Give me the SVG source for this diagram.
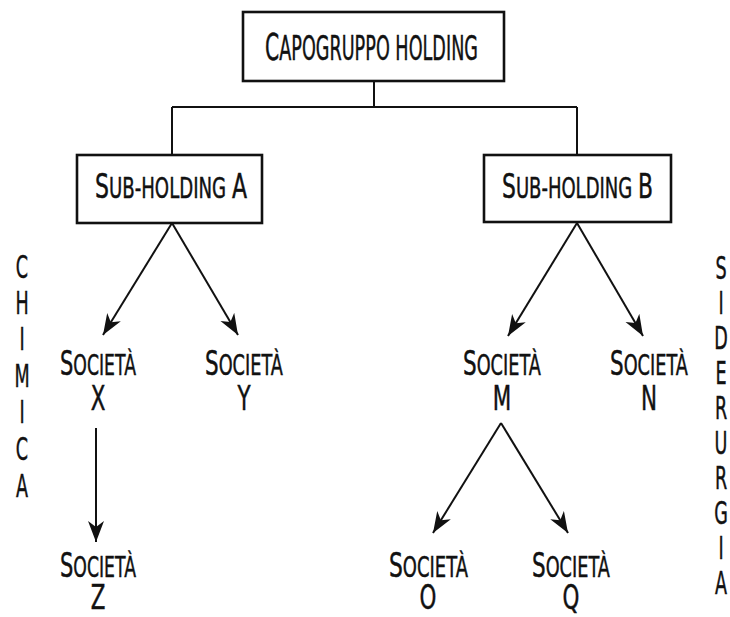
<svg xmlns="http://www.w3.org/2000/svg" width="730" height="617" viewBox="0 0 730 617">
<defs>
<style>
text{font-family:"DejaVu Sans","Liberation Sans",sans-serif;fill:#111;stroke:#111;stroke-width:0.5}
.box{fill:#fff;stroke:#111;stroke-width:2.6}
.ln{fill:none;stroke:#111;stroke-width:2}
.big{font-size:34px}
.sm{font-size:28px}
.v{font-size:32px;text-anchor:middle}
.L{font-size:33px;text-anchor:middle}
</style>
<marker id="ah" markerUnits="userSpaceOnUse" markerWidth="24" markerHeight="18" refX="21" refY="8" orient="auto">
<path d="M0,0 L21,8 L0,16 L6,8 Z" fill="#111"/>
</marker>
</defs>

<g id="connectors">
<path class="ln" d="M374,81 V107 M172,107 H577 M172,107 V155 M577,107 V155"/>
<line class="ln" x1="172" y1="223" x2="103" y2="335" marker-end="url(#ah)"/>
<line class="ln" x1="172" y1="223" x2="238" y2="335" marker-end="url(#ah)"/>
<line class="ln" x1="577" y1="223" x2="508" y2="336" marker-end="url(#ah)"/>
<line class="ln" x1="577" y1="223" x2="643" y2="336" marker-end="url(#ah)"/>
<line class="ln" x1="96" y1="428" x2="96" y2="542" marker-end="url(#ah)"/>
<line class="ln" x1="501" y1="423" x2="433" y2="533" marker-end="url(#ah)"/>
<line class="ln" x1="501" y1="423" x2="568" y2="533" marker-end="url(#ah)"/>
</g>

<g id="capogruppo">
<rect class="box" x="243" y="12" width="261" height="69"/>
<text x="265" y="60" textLength="213" lengthAdjust="spacingAndGlyphs"><tspan font-size="38">C</tspan><tspan font-size="33">APOGRUPPO HOLDING</tspan></text>
</g>

<g id="subA">
<rect class="box" x="77" y="155" width="185" height="68"/>
<text x="95" y="198" textLength="152" lengthAdjust="spacingAndGlyphs"><tspan class="big">S</tspan><tspan class="sm">UB-HOLDING </tspan><tspan class="big">A</tspan></text>
</g>

<g id="subB">
<rect class="box" x="484" y="155" width="187" height="67"/>
<text x="502" y="198" textLength="151" lengthAdjust="spacingAndGlyphs"><tspan class="big">S</tspan><tspan class="sm">UB-HOLDING </tspan><tspan class="big">B</tspan></text>
</g>

<g id="socX">
<text x="60" y="375" textLength="76" lengthAdjust="spacingAndGlyphs"><tspan class="big">S</tspan><tspan class="sm">OCIETÀ</tspan></text>
<text class="L" transform="scale(0.65,1)" x="150.8" y="410">X</text>
</g>

<g id="socY">
<text x="205" y="375" textLength="78" lengthAdjust="spacingAndGlyphs"><tspan class="big">S</tspan><tspan class="sm">OCIETÀ</tspan></text>
<text class="L" transform="scale(0.65,1)" x="375.4" y="410">Y</text>
</g>

<g id="socM">
<text x="463" y="375" textLength="78" lengthAdjust="spacingAndGlyphs"><tspan class="big">S</tspan><tspan class="sm">OCIETÀ</tspan></text>
<text class="L" transform="scale(0.65,1)" x="772.3" y="410">M</text>
</g>

<g id="socN">
<text x="610" y="375" textLength="78" lengthAdjust="spacingAndGlyphs"><tspan class="big">S</tspan><tspan class="sm">OCIETÀ</tspan></text>
<text class="L" transform="scale(0.65,1)" x="998.5" y="410">N</text>
</g>

<g id="socZ">
<text x="60" y="577" textLength="76" lengthAdjust="spacingAndGlyphs"><tspan class="big">S</tspan><tspan class="sm">OCIETÀ</tspan></text>
<text class="L" transform="scale(0.65,1)" x="150.8" y="609">Z</text>
</g>

<g id="socO">
<text x="389" y="577" textLength="79" lengthAdjust="spacingAndGlyphs"><tspan class="big">S</tspan><tspan class="sm">OCIETÀ</tspan></text>
<text class="L" transform="scale(0.65,1)" x="658.5" y="609">O</text>
</g>

<g id="socQ">
<text x="532" y="577" textLength="78" lengthAdjust="spacingAndGlyphs"><tspan class="big">S</tspan><tspan class="sm">OCIETÀ</tspan></text>
<text class="L" transform="scale(0.65,1)" x="878.5" y="609">Q</text>
</g>

<g id="chimica" transform="scale(0.55,1)">
<text class="v" x="40" y="278">C</text>
<text class="v" x="40" y="314">H</text>
<text class="v" x="40" y="350">I</text>
<text class="v" x="40" y="387">M</text>
<text class="v" x="40" y="423">I</text>
<text class="v" x="40" y="460">C</text>
<text class="v" x="40" y="497">A</text>
</g>

<g id="siderurgia" transform="scale(0.55,1)">
<text class="v" x="1311" y="279">S</text>
<text class="v" x="1311" y="314">I</text>
<text class="v" x="1311" y="349">D</text>
<text class="v" x="1311" y="384">E</text>
<text class="v" x="1311" y="419">R</text>
<text class="v" x="1311" y="454">U</text>
<text class="v" x="1311" y="489">R</text>
<text class="v" x="1311" y="524">G</text>
<text class="v" x="1311" y="559">I</text>
<text class="v" x="1311" y="594">A</text>
</g>
</svg>
